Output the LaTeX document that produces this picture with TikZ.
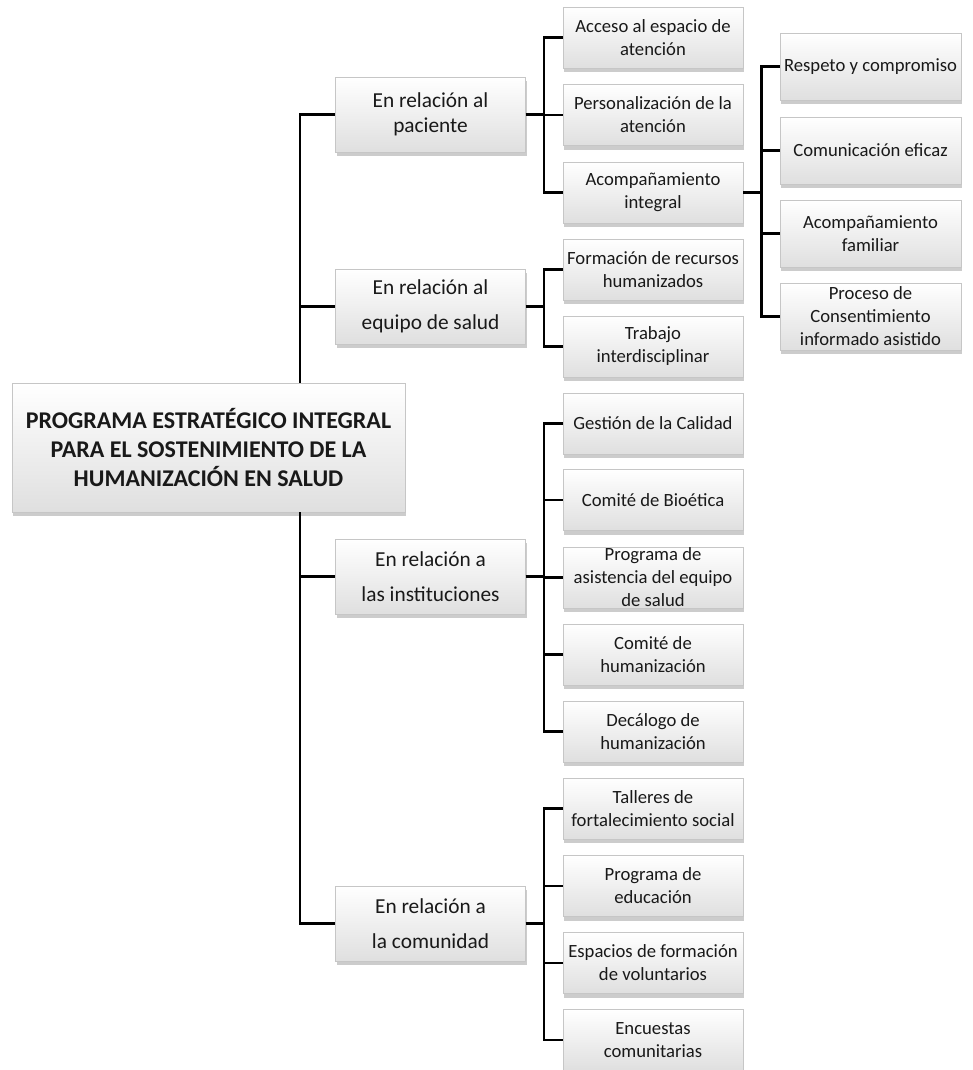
\documentclass[tikz,border=0pt]{standalone}
\usepackage{fontspec}
\setmainfont{Carlito}
\usetikzlibrary{shadows}
\begin{document}
\begin{tikzpicture}[x=0.75pt,y=-0.75pt,
        caja/.style={draw=gray!45, top color=white, bottom color=gray!25,
            drop shadow={shadow xshift=0.8pt, shadow yshift=-3.2pt, opacity=0.4},
            align=center, inner sep=0pt, text=black!90},
        raiz/.style={caja, minimum width=294.75pt, minimum height=96.75pt,
            font=\fontsize{18}{21.4}\selectfont\bfseries},
        nivuno/.style={caja, minimum width=142.5pt, minimum height=56.25pt,
            font=\fontsize{16}{26}\selectfont},
        nivdos/.style={caja, minimum width=135pt, minimum height=45.75pt,
            font=\fontsize{14}{17.25}\selectfont},
        nivtres/.style={caja, minimum width=135.75pt, minimum height=50.25pt,
            font=\fontsize{14}{17.25}\selectfont},
        rama/.style={line width=1.9pt},
        codo/.style={to path={-- ++(18,0) |- (\tikztotarget)}}]
    \useasboundingbox (0,0) rectangle (972,1070);

    \node[raiz] (prog) at (208.5,447.5)
        {PROGRAMA ESTRATÉGICO INTEGRAL\\PARA EL SOSTENIMIENTO DE LA\\HUMANIZACIÓN EN SALUD};

    \node[nivuno, font=\fontsize{16}{19}\selectfont] (pac) at (430.5,114.5) {En relación al\\paciente};
    \node[nivuno] (equ) at (430.5,306.5) {En relación al\\equipo de salud};
    \node[nivuno] (ins) at (430.5,576.5) {En relación a\\las instituciones};
    \node[nivuno] (com) at (430.5,923.5) {En relación a\\la comunidad};

    \node[nivdos] (acc) at (653,37.5) {Acceso al espacio de\\atención};
    \node[nivdos] (per) at (653,115) {Personalización de la\\atención};
    \node[nivdos] (aco) at (653,192.5) {Acompañamiento\\integral};

    \node[nivtres] (res) at (870.5,66.5) {Respeto y compromiso};
    \node[nivtres] (cmu) at (870.5,150.5) {Comunicación eficaz};
    \node[nivtres] (fam) at (870.5,233.5) {Acompañamiento\\familiar};
    \node[nivtres] (con) at (870.5,316.5) {Proceso de\\Consentimiento\\informado asistido};

    \node[nivdos] (for) at (653,269.5) {Formación de recursos\\humanizados};
    \node[nivdos] (tra) at (653,346.5) {Trabajo\\interdisciplinar};

    \node[nivdos] (cal) at (653,423.5) {Gestión de la Calidad};
    \node[nivdos] (bio) at (653,500) {Comité de Bioética};
    \node[nivdos] (asi) at (653,577.5) {Programa de\\asistencia del equipo\\de salud};
    \node[nivdos] (hum) at (653,654.5) {Comité de\\humanización};
    \node[nivdos] (dec) at (653,731.5) {Decálogo de\\humanización};

    \node[nivdos] (tal) at (653,808.5) {Talleres de\\fortalecimiento social};
    \node[nivdos] (edu) at (653,886) {Programa de\\educación};
    \node[nivdos] (vol) at (653,963) {Espacios de formación\\de voluntarios};
    \node[nivdos] (enc) at (653,1040) {Encuestas\\comunitarias};

    \coordinate (tronco) at (300,0);
    \draw[rama] (prog.north -| tronco) |- (pac.west);
    \draw[rama] (prog.north -| tronco) |- (equ.west);
    \draw[rama] (prog.south -| tronco) |- (ins.west);
    \draw[rama] (prog.south -| tronco) |- (com.west);

    \draw[rama] (pac.east) edge[codo] (acc.west) edge[codo] (per.west) edge[codo] (aco.west);
    \draw[rama] (aco.east) edge[codo] (res.west) edge[codo] (cmu.west)
        edge[codo] (fam.west) edge[codo] (con.west);
    \draw[rama] (equ.east) edge[codo] (for.west) edge[codo] (tra.west);
    \draw[rama] (ins.east) edge[codo] (cal.west) edge[codo] (bio.west) edge[codo] (asi.west)
        edge[codo] (hum.west) edge[codo] (dec.west);
    \draw[rama] (com.east) edge[codo] (tal.west) edge[codo] (edu.west)
        edge[codo] (vol.west) edge[codo] (enc.west);
\end{tikzpicture}
\end{document}
